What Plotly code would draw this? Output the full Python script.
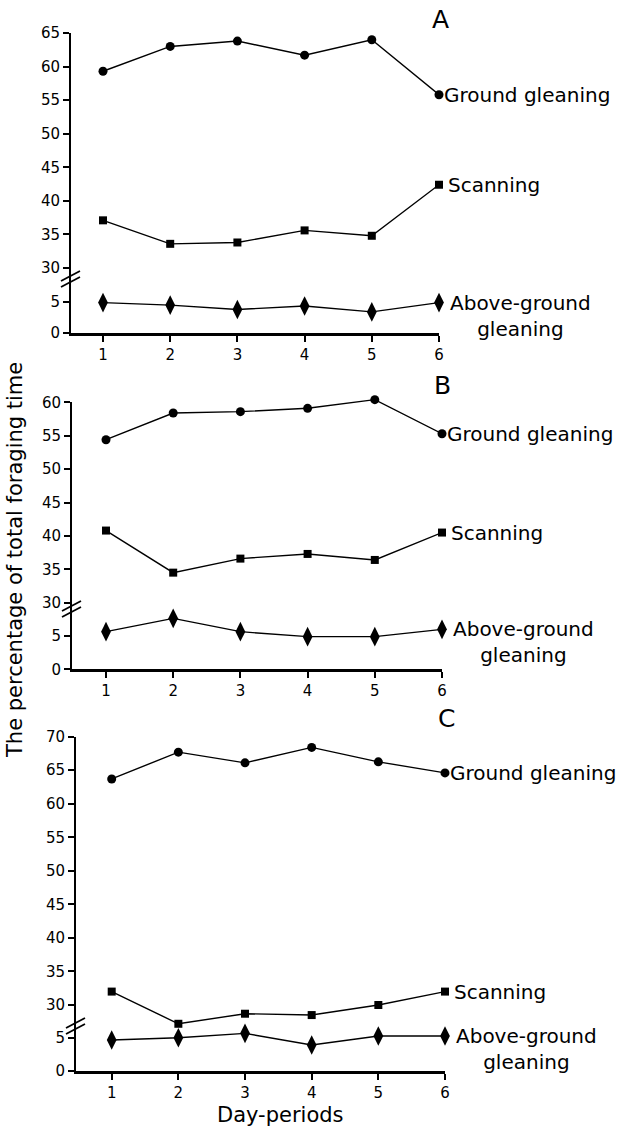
import plotly.graph_objects as go

# ---------------- data ----------------
periods = [1, 2, 3, 4, 5, 6]
period_labels = ["1", "2", "3", "4", "5", "6"]

ground_A = [59.3, 63.0, 63.8, 61.7, 64.0, 55.8]
scan_A = [37.1, 33.6, 33.8, 35.6, 34.8, 42.4]
above_A = [4.9, 4.5, 3.8, 4.35, 3.4, 4.9]

ground_B = [54.4, 58.4, 58.6, 59.1, 60.4, 55.3]
scan_B = [40.8, 34.5, 36.6, 37.3, 36.4, 40.5]
above_B = [5.65, 7.65, 5.65, 4.9, 4.9, 6.0]

ground_C = [63.7, 67.7, 66.1, 68.4, 66.25, 64.6]
scan_C = [32.0, 27.2, 28.7, 28.5, 30.0, 32.0]
above_C = [4.65, 5.0, 5.65, 3.9, 5.25, 5.25]

upper_ticks_A = [30, 35, 40, 45, 50, 55, 60, 65]
upper_ticks_B = [30, 35, 40, 45, 50, 55, 60]
upper_ticks_C = [30, 35, 40, 45, 50, 55, 60, 65, 70]
lower_ticks = [0, 5]

panel_letters = ["A", "B", "C"]
series_names = ["Ground gleaning", "Scanning", "Above-ground<br>gleaning"]

# ---------------- layout geometry (pixels) ----------------
W, H = 618, 1133
FONT = "DejaVu Sans"
HEADROOM = 14  # px of extra room above the upper axis for data drawing

panels = [
    dict(g=ground_A, s=scan_A, a=above_A, ticks=upper_ticks_A, top=65,
         y_top=33, y30=268, join=281, y5=302, y0=333, xl=71, x1=103, x6=439,
         letter_xy=(440, 19)),
    dict(g=ground_B, s=scan_B, a=above_B, ticks=upper_ticks_B, top=60,
         y_top=402.3, y30=602.7, join=611, y5=636, y0=669.3, xl=72, x1=106, x6=442,
         letter_xy=(442, 385)),
    dict(g=ground_C, s=scan_C, a=above_C, ticks=upper_ticks_C, top=70,
         y_top=736.7, y30=1005, join=1028, y5=1037.7, y0=1071, xl=76, x1=111.7, x6=445,
         letter_xy=(446, 718)),
]


def px(x):
    return x / W


def py(y):
    return 1 - y / H


fig = go.Figure()
layout = {}
annotations = []
shapes = []

line_style = dict(color="black", width=1.4)
tickfont = dict(family=FONT, size=15, color="black")
lblfont = dict(family=FONT, size=20, color="black")
titlefont = dict(family=FONT, size=21, color="black")

for i, p in enumerate(panels):
    xa = 2 * i + 1       # visible bottom x axis
    xb = 2 * i + 2       # hidden x axis for upper part
    ylo = 3 * i + 1      # lower y axis
    yup = 3 * i + 2      # upper y axis (visible ticks)
    ydat = 3 * i + 3     # upper data axis (hidden, same scale, extra headroom)

    xscale = (p["x6"] - p["x1"]) / 5.0
    xmin = 1 - (p["x1"] - p["xl"]) / xscale
    uscale = (p["y30"] - p["y_top"]) / (p["top"] - 30)
    ubottom = 30 - (p["join"] - p["y30"]) / uscale
    utop_data = p["top"] + HEADROOM / uscale
    lscale = (p["y0"] - p["y5"]) / 5.0
    ltop = (p["y0"] - p["join"]) / lscale

    xdom = [px(p["xl"]), px(p["x6"])]
    axis_common = dict(showgrid=False, zeroline=False, showline=True,
                       linecolor="black", ticks="outside", tickcolor="black",
                       tickfont=tickfont, automargin=False)

    layout[f"xaxis{xa}"] = dict(domain=xdom, range=[xmin, 6], anchor=f"y{ylo}",
                                tickvals=periods, ticktext=period_labels,
                                linewidth=2.5, ticklen=6, tickwidth=1.5,
                                **axis_common)
    layout[f"xaxis{xb}"] = dict(domain=xdom, range=[xmin, 6], anchor=f"y{yup}",
                                visible=False, matches=f"x{xa}", automargin=False)
    layout[f"yaxis{ylo}"] = dict(domain=[py(p["y0"]), py(p["join"])],
                                 range=[0, ltop], anchor=f"x{xa}",
                                 tickvals=lower_ticks, linewidth=2,
                                 ticklen=6, tickwidth=1.5, **axis_common)
    layout[f"yaxis{yup}"] = dict(domain=[py(p["join"]), py(p["y_top"])],
                                 range=[ubottom, p["top"]], anchor=f"x{xb}",
                                 tickvals=p["ticks"], linewidth=2,
                                 ticklen=6, tickwidth=1.5, **axis_common)
    layout[f"yaxis{ydat}"] = dict(domain=[py(p["join"]), py(p["y_top"] - HEADROOM)],
                                  range=[ubottom, utop_data], anchor=f"x{xb}",
                                  visible=False, automargin=False)

    xs = "x" if xa == 1 else f"x{xa}"
    xsb = f"x{xb}"
    ys_lo = "y" if ylo == 1 else f"y{ylo}"
    ys_up = f"y{yup}"
    ys_dat = f"y{ydat}"

    # empty trace so the tick-bearing upper axis is drawn
    fig.add_trace(go.Scatter(x=[], y=[], xaxis=xsb, yaxis=ys_up,
                             mode="markers", showlegend=False, hoverinfo="skip"))

    fig.add_trace(go.Scatter(x=periods, y=p["g"], xaxis=xsb, yaxis=ys_dat,
                             mode="lines+markers", line=line_style,
                             marker=dict(symbol="circle", size=9, color="black"),
                             cliponaxis=False, showlegend=False))
    fig.add_trace(go.Scatter(x=periods, y=p["s"], xaxis=xsb, yaxis=ys_dat,
                             mode="lines+markers", line=line_style,
                             marker=dict(symbol="square", size=8, color="black"),
                             cliponaxis=False, showlegend=False))
    fig.add_trace(go.Scatter(x=periods, y=p["a"], xaxis=xs, yaxis=ys_lo,
                             mode="lines+markers", line=line_style,
                             marker=dict(symbol="diamond-tall", size=14, color="black"),
                             cliponaxis=False, showlegend=False))

    # series labels
    annotations.append(dict(x=6, y=p["g"][-1], xref=xsb, yref=ys_dat,
                            text=series_names[0], showarrow=False,
                            xanchor="left", yanchor="middle", xshift=3,
                            font=lblfont))
    annotations.append(dict(x=6, y=p["s"][-1], xref=xsb, yref=ys_dat,
                            text=series_names[1], showarrow=False,
                            xanchor="left", yanchor="middle", xshift=7,
                            font=lblfont))
    annotations.append(dict(x=6, y=p["a"][-1], xref=xs, yref=ys_lo,
                            text=series_names[2], showarrow=False, align="center",
                            xanchor="left", yanchor="middle", xshift=9, yshift=-13,
                            font=lblfont))
    # panel letter
    lx, ly = p["letter_xy"]
    annotations.append(dict(x=px(lx), y=py(ly), xref="paper", yref="paper",
                            text=panel_letters[i], showarrow=False,
                            xanchor="center", yanchor="middle",
                            font=dict(family=FONT, size=25, color="black")))

    # axis break marks
    xl, j = p["xl"], p["join"]
    for off in (0, -6):
        shapes.append(dict(type="line", xref="paper", yref="paper",
                           x0=px(xl - 10), y0=py(j + 6 + off),
                           x1=px(xl + 9), y1=py(j - 4 + off),
                           line=dict(color="black", width=1.8)))

annotations.append(dict(x=px(15), y=py(560), xref="paper", yref="paper",
                        text="The percentage of total foraging time",
                        textangle=-90, showarrow=False,
                        xanchor="center", yanchor="middle", font=titlefont))
annotations.append(dict(x=px(280), y=py(1115), xref="paper", yref="paper",
                        text="Day-periods", showarrow=False,
                        xanchor="center", yanchor="middle", font=titlefont))

fig.update_layout(width=W, height=H, margin=dict(l=0, r=0, t=0, b=0),
                  paper_bgcolor="white", plot_bgcolor="rgba(0,0,0,0)",
                  annotations=annotations, shapes=shapes, showlegend=False,
                  **layout)

fig.write_html("out.html", config={"displayModeBar": False},
               post_script="document.body.style.margin='0';document.body.style.padding='0';")
